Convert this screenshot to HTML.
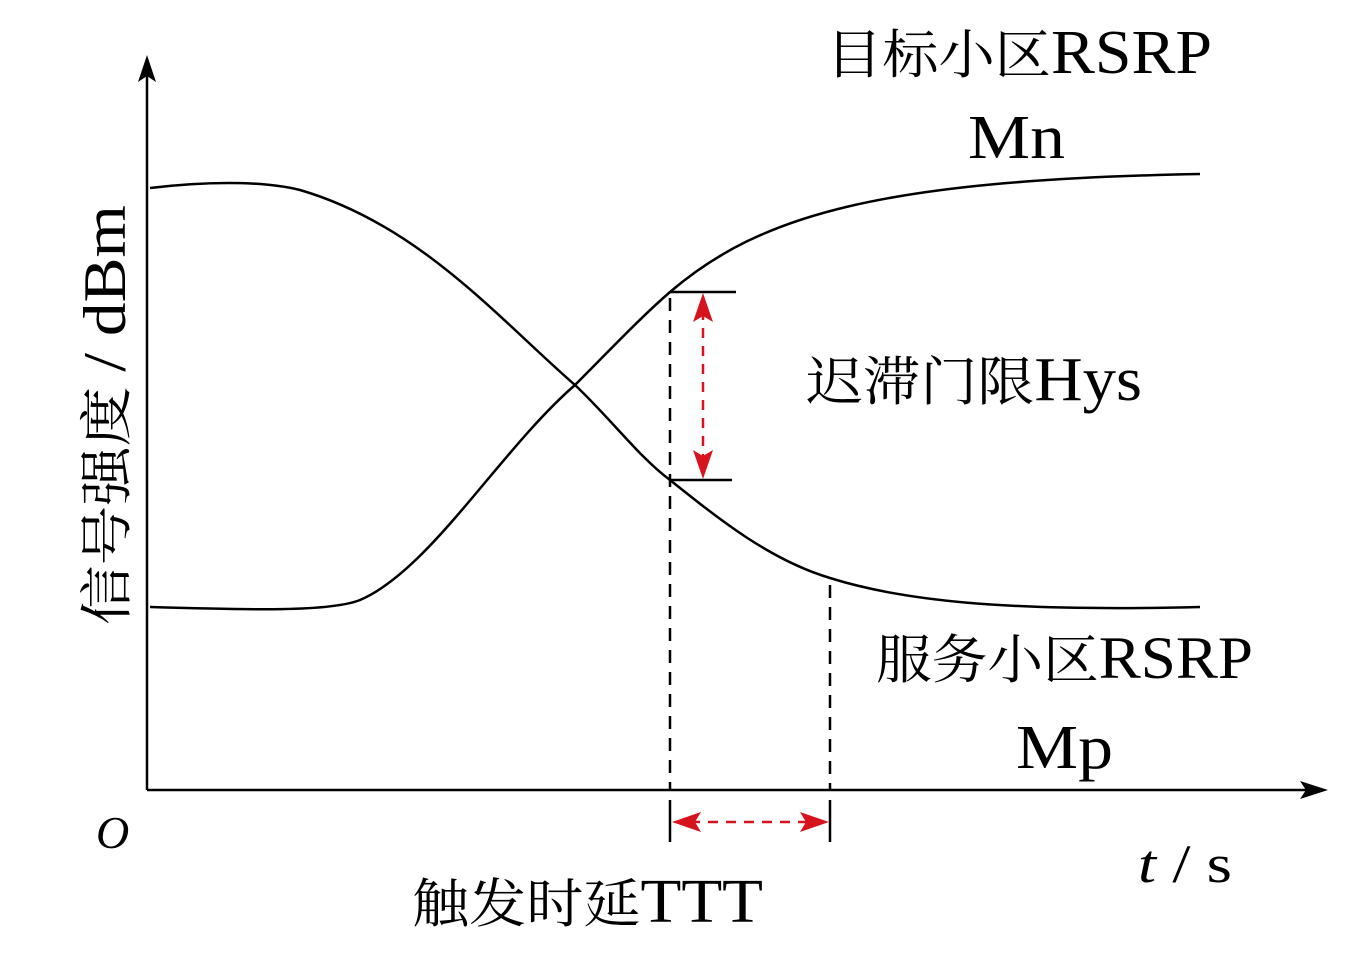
<!DOCTYPE html>
<html><head><meta charset="utf-8"><style>body{margin:0;background:#fff}</style></head><body>
<svg width="1369" height="965" xmlns="http://www.w3.org/2000/svg" style="display:block">
<g stroke="#000" stroke-width="2.5" fill="none">
<line x1="147" y1="790" x2="147" y2="70"/>
<line x1="147" y1="790" x2="1310" y2="790"/>
<path d="M150,607 C250,610 330,612 360,600 C430,570 500,450 575,385 C610,350 640,318 670,292 C760,215 880,180 1200,174"/>
<path d="M150,188 C200,182 260,180 300,190 C420,225 500,320 575,385 C610,418 640,458 670,480 C720,520 770,560 830,578 C900,600 1000,612 1200,607"/>
<line x1="670" y1="292" x2="736" y2="292"/>
<line x1="670" y1="480" x2="732" y2="480"/>
<line x1="670" y1="800" x2="670" y2="842"/>
<line x1="830" y1="800" x2="830" y2="842"/>
</g>
<path d="M147,55 L138,82 L147,76 L156,82z" fill="#000"/>
<path d="M1328,790 L1300,781 L1306,790 L1300,799z" fill="#000"/>
<g stroke="#000" stroke-width="2.5" stroke-dasharray="13,9" fill="none">
<line x1="670" y1="298" x2="670" y2="790"/>
<line x1="830" y1="585" x2="830" y2="790"/>
</g>
<g stroke="#d7141e" stroke-width="2.5" stroke-dasharray="10,8" fill="none">
<line x1="703" y1="310" x2="703" y2="462"/>
<line x1="690" y1="822" x2="810" y2="822"/>
</g>
<path d="M703,293 L693,322 L703,316 L713,322z" fill="#d7141e"/>
<path d="M703,479 L693,450 L703,456 L713,450z" fill="#d7141e"/>
<path d="M672,822 L701,812 L695,822 L701,832z" fill="#d7141e"/>
<path d="M829,822 L800,812 L806,822 L800,832z" fill="#d7141e"/>
<g font-family="Liberation Serif, Noto Serif CJK SC, serif" fill="#000">
<text x="826" y="73" font-size="53" textLength="386" lengthAdjust="spacingAndGlyphs">目标小区<tspan font-size="62">RSRP</tspan></text>
<text x="968" y="158" font-size="62" textLength="97" lengthAdjust="spacingAndGlyphs">Mn</text>
<text x="806" y="400" font-size="53" textLength="336" lengthAdjust="spacingAndGlyphs">迟滞门限<tspan font-size="62">Hys</tspan></text>
<text x="876" y="678" font-size="53" textLength="377" lengthAdjust="spacingAndGlyphs">服务小区<tspan font-size="60">RSRP</tspan></text>
<text x="1016" y="768" font-size="62" textLength="97" lengthAdjust="spacingAndGlyphs">Mp</text>
<text x="96" y="848" font-size="46" font-style="italic">O</text>
<text x="1138" y="882" font-size="54" textLength="94" lengthAdjust="spacingAndGlyphs"><tspan font-style="italic">t</tspan> / s</text>
<text x="412" y="922" font-size="53" textLength="351" lengthAdjust="spacingAndGlyphs">触发时延<tspan font-size="62">TTT</tspan></text>
<text transform="translate(125,625) rotate(-90)" font-size="53" textLength="420" lengthAdjust="spacingAndGlyphs">信号强度 <tspan font-size="60">/ dBm</tspan></text>
</g>
</svg>
</body></html>
